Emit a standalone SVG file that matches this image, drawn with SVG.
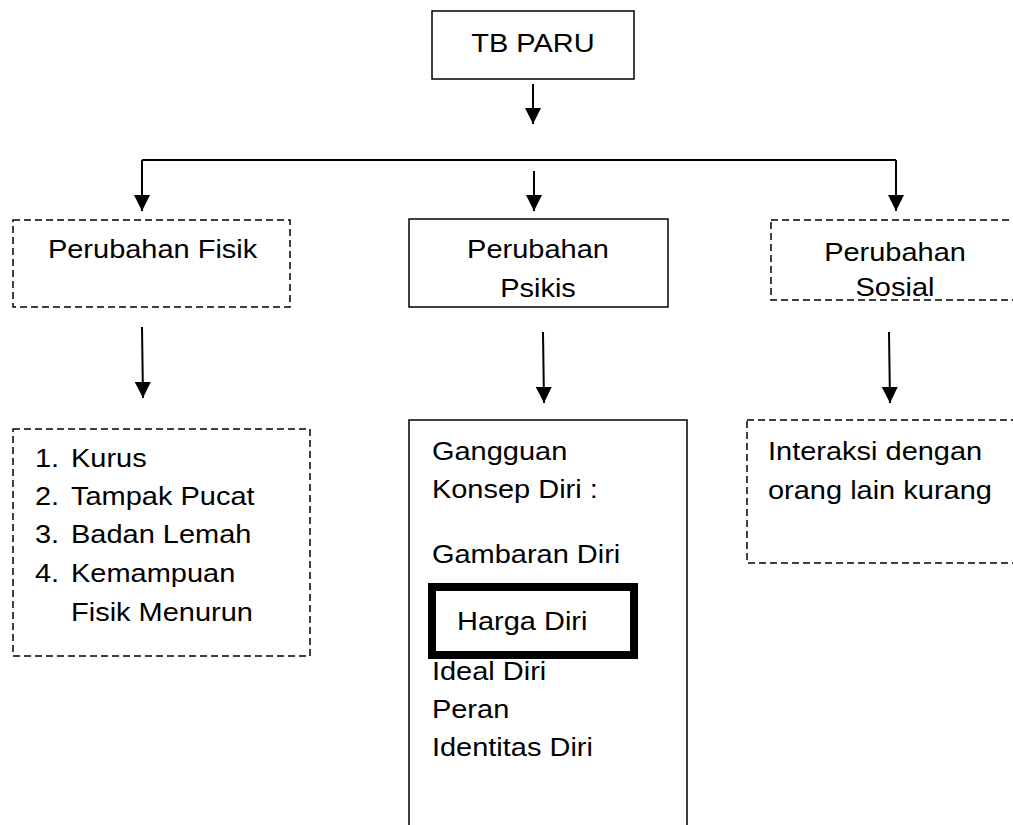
<svg xmlns="http://www.w3.org/2000/svg" width="1013" height="825" viewBox="0 0 1013 825">
<defs>
<marker id="ah" markerWidth="8" markerHeight="8" refX="8" refY="4" orient="auto" markerUnits="strokeWidth">
<path d="M0,0 L8,4 L0,8 Z" fill="#000"/>
</marker>
<style>
text{font-family:"Liberation Sans",Arial,sans-serif;font-size:26px;fill:#000}
.box{fill:#fff;stroke:#000;stroke-width:1.5}
.dash{fill:#fff;stroke:#000;stroke-width:1.5;stroke-dasharray:7 4}
.c{text-anchor:middle}
.conn{fill:none;stroke:#000;stroke-width:2}
.arr{fill:none;stroke:#000;stroke-width:2;marker-end:url(#ah)}
</style>
</defs>
<rect width="1013" height="825" fill="#fff"/>
<g id="connectors">
<line class="arr" x1="533" y1="84" x2="533" y2="124"/>
<polyline class="arr" points="896,160 896,211"/>
<polyline class="conn" points="142,160 896,160"/>
<line class="arr" x1="142" y1="160" x2="142" y2="211"/>
<line class="arr" x1="534" y1="171" x2="534" y2="211"/>
<line class="arr" x1="142" y1="327" x2="143" y2="398"/>
<line class="arr" x1="543" y1="332" x2="544" y2="403"/>
<line class="arr" x1="889" y1="332" x2="890" y2="403"/>
</g>
<g id="tb-paru">
<rect class="box" x="432" y="11" width="202" height="68"/>
<text class="c" transform="scale(1.115 1)" x="478" y="52">TB PARU</text>
</g>
<g id="perubahan-fisik">
<rect class="dash" x="13" y="220" width="277" height="87"/>
<text transform="scale(1.115 1)" x="43" y="258">Perubahan Fisik</text>
</g>
<g id="perubahan-psikis">
<rect class="box" x="409" y="219" width="259" height="88"/>
<text class="c" transform="scale(1.115 1)" x="482.5" y="258">Perubahan</text>
<text class="c" transform="scale(1.115 1)" x="482.5" y="297">Psikis</text>
</g>
<g id="perubahan-sosial">
<rect class="dash" x="771" y="220" width="260" height="80"/>
<text class="c" transform="scale(1.115 1)" x="802.7" y="261">Perubahan</text>
<text class="c" transform="scale(1.115 1)" x="802.7" y="296">Sosial</text>
</g>
<g id="fisik-detail">
<rect class="dash" x="13" y="429" width="297" height="227"/>
<g transform="scale(1.115 1)">
<text x="31.4" y="467">1.</text><text x="63.7" y="467">Kurus</text>
<text x="31.4" y="505">2.</text><text x="63.7" y="505">Tampak Pucat</text>
<text x="31.4" y="543">3.</text><text x="63.7" y="543">Badan Lemah</text>
<text x="31.4" y="582">4.</text><text x="63.7" y="582">Kemampuan</text>
<text x="63.7" y="621">Fisik Menurun</text>
</g>
</g>
<g id="psikis-detail">
<rect class="box" x="409" y="420" width="278" height="420"/>
<g transform="scale(1.115 1)">
<text x="387.4" y="460">Gangguan</text>
<text x="387.4" y="498">Konsep Diri :</text>
<text x="387.4" y="563">Gambaran Diri</text>
<text x="387.4" y="680">Ideal Diri</text>
<text x="387.4" y="718">Peran</text>
<text x="387.4" y="756">Identitas Diri</text>
</g>
<g id="harga-diri">
<rect x="432" y="587" width="202" height="68" fill="none" stroke="#000" stroke-width="8"/>
<text transform="scale(1.115 1)" x="409.9" y="630">Harga Diri</text>
</g>
</g>
<g id="sosial-detail">
<rect class="dash" x="747" y="420" width="290" height="143"/>
<g transform="scale(1.115 1)">
<text x="688.8" y="460">Interaksi dengan</text>
<text x="688.8" y="499">orang lain kurang</text>
</g>
</g>
</svg>
